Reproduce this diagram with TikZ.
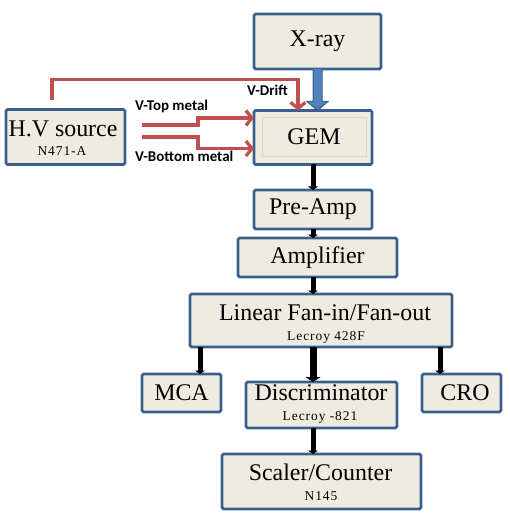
\documentclass[tikz,border=0pt]{standalone}
\usepackage{fontspec}
\setmainfont{Liberation Serif}
\newfontfamily\lblfont{Carlito}
\newfontfamily\subfont[LetterSpace=7]{Liberation Serif}
\usetikzlibrary{arrows.meta,calc}
\definecolor{boxfill}{HTML}{EEECE1}
\definecolor{boxedge}{HTML}{3A5F8F}
\definecolor{wirered}{HTML}{C0504D}
\definecolor{arrowblue}{HTML}{4F81BD}
\definecolor{inneredge}{HTML}{DDD9C3}
\begin{document}
\begin{tikzpicture}[x=1bp,y=-1bp,
  box/.style={draw=boxedge, fill=boxfill, line width=2.8bp, rounded corners=1.5bp,
    inner sep=0pt, outer sep=0pt, font=\fontsize{24}{26}\selectfont},
  maintxt/.style={anchor=base, inner sep=0pt, font=\fontsize{24}{26}\selectfont},
  subtxt/.style={anchor=base, inner sep=0pt, font=\subfont\fontsize{13.5}{15}\selectfont},
  wirelbl/.style={anchor=base west, inner sep=0pt, font=\lblfont\bfseries\fontsize{15}{17}\selectfont},
  redwire/.style={draw=wirered, line width=3.3bp,
    -{Straight Barb[length=6bp,width=15bp]}},
  flow/.style={draw=black, line width=5bp, -{Triangle[length=3.5bp,width=10bp]}},
  flowbig/.style={draw=black, line width=7bp, -{Triangle[length=5bp,width=15bp]}}
]
\useasboundingbox (0,0) rectangle (510,519);

% boxes
\node[box, minimum width=127bp, minimum height=55bp] (xray) at (317.5,41.5) {X-ray};
\node[box, minimum width=118bp, minimum height=54bp] (gem) at (313,137.5) {};
\node[draw=inneredge, fill=boxfill, line width=0.8bp, inner sep=0pt,
  minimum width=104bp, minimum height=39bp, font=\fontsize{24}{26}\selectfont] (geminner) at (314,136.5) {GEM};
\node[box, minimum width=119bp, minimum height=55bp] (hv) at (65.5,137) {};
\node[maintxt] (hvmain) at (63,137) {H.V source};
\node[subtxt] (hvsub) at (62,156) {N471-A};
\node[box, minimum width=118bp, minimum height=39bp] (preamp) at (313,209.5) {Pre-Amp};
\node[box, minimum width=159bp, minimum height=39bp] (amp) at (317.5,257.5) {Amplifier};
\node[box, minimum width=262bp, minimum height=53bp] (lin) at (321,320.5) {};
\node[maintxt] (linmain) at (325,320) {Linear Fan-in/Fan-out};
\node[subtxt] (linsub) at (326,340) {Lecroy 428F};
\node[box, minimum width=79bp, minimum height=38bp] (mca) at (181.5,393) {MCA};
\node[box, minimum width=151bp, minimum height=46bp] (disc) at (321.5,405) {};
\node[maintxt] (discmain) at (321,400.5) {Discriminator};
\node[subtxt] (discsub) at (320,420) {Lecroy -821};
\node[box, minimum width=79bp, minimum height=38bp] (cro) at (461.5,393) {};
\node[maintxt] (crotxt) at (465,400.5) {CRO};
\node[box, minimum width=199bp, minimum height=55bp] (scaler) at (321.5,481.5) {};
\node[maintxt] (scmain) at (320.5,480) {Scaler/Counter};
\node[subtxt] (scsub) at (321,500) {N145};

% blue X-ray arrow
\coordinate (xs) at (xray.south);
\coordinate (gt) at (xray.south |- gem.north);
\draw[draw=boxedge, fill=arrowblue, line width=1bp, line join=miter]
  ($(xs)+(-4.5,0)$) -- ($(gt)+(-4.5,-9)$) -- ($(gt)+(-10.5,-9)$) -- (gt)
  -- ($(gt)+(10.5,-9)$) -- ($(gt)+(4.5,-9)$) -- ($(xs)+(4.5,0)$);

% red high-voltage wires
\coordinate (d0) at (52,100);
\coordinate (dtip) at ($(gem.north west)+(44,0)$);
\draw[redwire] (d0) |- ($(dtip)+(0,-31)$) -- (dtip);
\coordinate (t0) at (142,125);
\coordinate (tt) at ($(gem.north west)+(0,7.5)$);
\draw[redwire] (t0) -- ++(56,0) |- (tt);
\coordinate (b0) at (142,137);
\coordinate (bt) at ($(gem.south west)+(0,-16)$);
\draw[redwire] (b0) -- ++(56,0) |- (bt);

\node[wirelbl] (ldrift) at (247,96) {V-Drift};
\node[wirelbl] (ltop) at (135,111) {V-Top metal};
\node[wirelbl] (lbot) at (135,162) {V-Bottom metal};

% signal chain
\draw[flow] (gem.south) -- (preamp.north);
\draw[flow] (preamp.south) -- (preamp.south |- amp.north);
\draw[flow] (preamp.south |- amp.south) -- (preamp.south |- lin.north);
\coordinate (mcain) at ($(mca.north)+(18.5,0)$);
\draw[flow] (lin.south -| mcain) -- (mcain);
\coordinate (croin) at ($(cro.north)+(-21.5,0)$);
\draw[flow] (lin.south -| croin) -- (croin);
\draw[flowbig] (preamp.south |- lin.south) -- (preamp.south |- disc.north);
\draw[flow] (preamp.south |- disc.south) -- (preamp.south |- scaler.north);
\end{tikzpicture}
\end{document}
